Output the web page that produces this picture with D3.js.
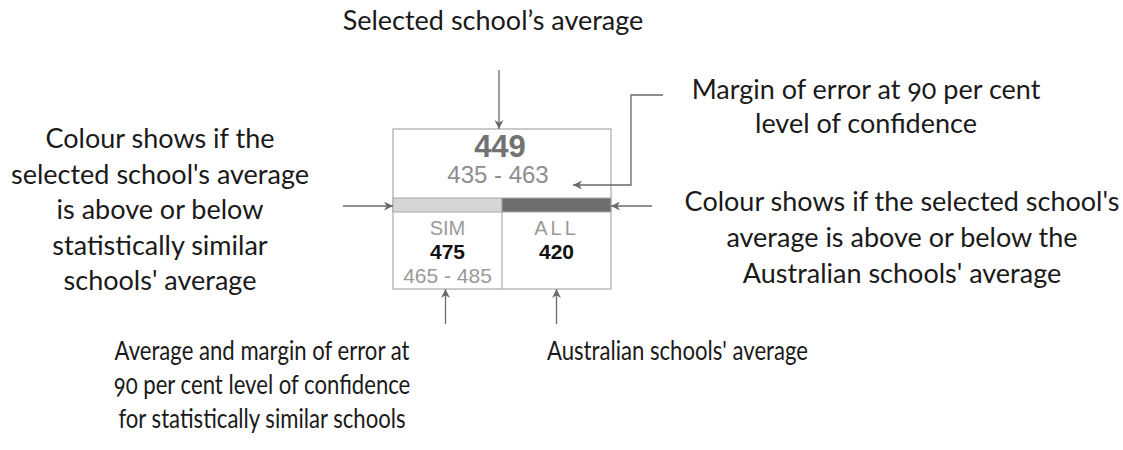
<!DOCTYPE html>
<html>
<head>
<meta charset="utf-8">
<script src="https://cdn.jsdelivr.net/npm/d3@7"></script>
<style>
  body { margin: 0; background: #fff; }
  .note { font-family: Lato, "Open Sans", sans-serif; font-size: 27px; fill: #1a1a1a; font-variant-numeric: oldstyle-nums; }
  .tile { font-family: "Liberation Sans", Arial, sans-serif; }
</style>
</head>
<body>
<div id="chart"></div>
<script>
// values shown in the example tile
const schoolAverage = 449;
const schoolRange = [435, 463];
const panelLabels = ["SIM", "ALL"];
const panelAverages = [475, 420];
const panelRanges = [[465, 485], null];
const panelColours = ["#d6d6d6", "#6e6e6e"];

// annotation texts
const topNote = ["Selected school\u2019s average"];
const marginNote = ["Margin of error at 90 per cent", "level of confidence"];
const leftNote = ["Colour shows if the", "selected school's average", "is above or below", "statistically similar", "schools' average"];
const rightNote = ["Colour shows if the selected school's", "average is above or below the", "Australian schools' average"];
const simNote = ["Average and margin of error at", "90 per cent level of confidence", "for statistically similar schools"];
const allNote = ["Australian schools' average"];

const width = 1123, height = 450;

const svg = d3.select("#chart").append("svg")
    .attr("width", width)
    .attr("height", height);

svg.append("defs").append("marker")
    .attr("id", "head")
    .attr("viewBox", "0 0 10 10")
    .attr("refX", 10).attr("refY", 5)
    .attr("markerWidth", 10).attr("markerHeight", 9)
    .attr("markerUnits", "userSpaceOnUse")
    .attr("orient", "auto")
    .append("path")
    .attr("d", "M0,0 L10,5 L0,10 L3,5 Z")
    .style("fill", "#6a6a6a");

// tile frame
const box = { left: 393, right: 611, top: 129, bar: 198, barEnd: 212, bottom: 289 };

const x = d3.scaleBand()
    .domain(panelLabels)
    .range([box.left, box.right]);

const tile = svg.append("g").attr("class", "tile");

tile.append("rect")
    .attr("x", box.left).attr("y", box.top)
    .attr("width", box.right - box.left).attr("height", box.bottom - box.top)
    .style("fill", "#fff").style("stroke", "#a8a8a8").style("stroke-width", 1.2);

// colour strip
tile.selectAll(".strip")
    .data(panelLabels)
    .enter().append("rect")
    .attr("class", "strip")
    .attr("x", d => x(d))
    .attr("y", box.bar)
    .attr("width", x.bandwidth())
    .attr("height", box.barEnd - box.bar)
    .style("fill", (d, i) => panelColours[i])
    .style("stroke", "#a8a8a8").style("stroke-width", 1);

// divider
tile.append("line")
    .attr("x1", x(panelLabels[1])).attr("x2", x(panelLabels[1]))
    .attr("y1", box.barEnd).attr("y2", box.bottom)
    .style("stroke", "#a8a8a8").style("stroke-width", 1.2);

const mid = (box.left + box.right) / 2;

tile.append("text")
    .attr("x", mid - 2).attr("y", 157)
    .attr("text-anchor", "middle")
    .style("font-size", "31px").style("font-weight", "bold")
    .style("fill", "#727272")
    .text(schoolAverage);

tile.append("text")
    .attr("x", mid - 4).attr("y", 183)
    .attr("text-anchor", "middle")
    .style("font-size", "24px")
    .style("fill", "#8e8e8e")
    .text(schoolRange[0] + " - " + schoolRange[1]);

const panel = tile.selectAll(".panel")
    .data(panelLabels)
    .enter().append("g")
    .attr("class", "panel")
    .attr("transform", d => "translate(" + (x(d) + x.bandwidth() / 2) + ",0)");

panel.append("text")
    .attr("y", 235)
    .attr("text-anchor", "middle")
    .style("font-size", "20px")
    .style("letter-spacing", d => d === "ALL" ? "3px" : "0px")
    .style("fill", "#9a9a9a")
    .text(d => d);

panel.append("text")
    .attr("y", 259)
    .attr("text-anchor", "middle")
    .style("font-size", "21px").style("font-weight", "bold")
    .style("fill", "#111")
    .text((d, i) => panelAverages[i]);

panel.append("text")
    .attr("y", 283)
    .attr("text-anchor", "middle")
    .style("font-size", "21px")
    .style("fill", "#9a9a9a")
    .text((d, i) => panelRanges[i] ? panelRanges[i][0] + " - " + panelRanges[i][1] : "");

// arrows
const arrowLine = d3.line();
const simX = x(panelLabels[0]) + x.bandwidth() / 2 - 2;
const allX = x(panelLabels[1]) + x.bandwidth() / 2;
const arrows = [
    [[499, 70], [499, box.top]],
    [[663, 95], [631, 95], [631, 185], [573, 185]],
    [[343, 206], [box.left, 206]],
    [[652, 206], [box.right, 206]],
    [[simX, 324], [simX, box.bottom]],
    [[allX, 324], [allX, box.bottom]]
];

svg.selectAll(".arrow")
    .data(arrows)
    .enter().append("path")
    .attr("class", "arrow")
    .attr("d", arrowLine)
    .style("fill", "none")
    .style("stroke", "#6a6a6a")
    .style("stroke-width", 1.3)
    .attr("marker-end", "url(#head)");

// notes
function note(lines, cx, y0, step, sx, anchor) {
    svg.append("g")
        .attr("transform", "translate(" + cx + ",0) scale(" + (sx || 1) + ",1)")
        .selectAll("text")
        .data(lines)
        .enter().append("text")
        .attr("class", "note")
        .attr("x", 0)
        .attr("y", (d, i) => y0 + i * step)
        .attr("text-anchor", anchor || "middle")
        .text(d => d);
}

note(topNote, 493, 30, 0);
note(marginNote, 866, 99, 34);
note(leftNote, 160, 148, 35.5);
note(rightNote, 902, 211, 36);
note(simNote, 262, 360, 34, 0.82);
note(allNote, 547, 360, 0, 0.82, "start");
</script>
</body>
</html>
